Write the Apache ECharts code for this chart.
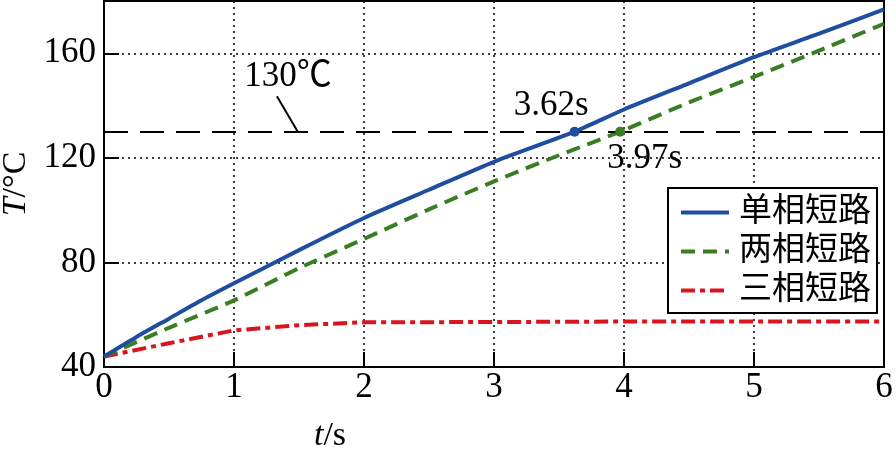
<!DOCTYPE html>
<html>
<head>
<meta charset="utf-8">
<script src="https://cdn.jsdelivr.net/npm/echarts@6/dist/echarts.min.js"></script>
<style>html,body{margin:0;padding:0;background:#fff}#c{width:896px;height:458px}</style>
</head>
<body>
<div id="c"></div>
<script>
// ---- data ----
const seriesNames = ['单相短路', '两相短路', '三相短路'];
const xTicks = [0, 1, 2, 3, 4, 5, 6];
const yTicks = [40, 80, 120, 160];
const singlePhase = [[0,44],[0.25,51.5],[0.5,58.5],[0.75,65.5],[1,72],[1.5,84.7],[2,97],[2.5,107.8],[3,118.5],[3.62,130],[4,138.5],[4.5,148.5],[5,158.5],[5.5,167.5],[6,176.8]];
const twoPhase = [[0,44],[0.5,55],[1,65.5],[1.5,77.8],[2,89],[2.5,100.3],[3,111],[3.5,121],[3.97,130],[4.5,141.2],[5,151],[5.5,161],[6,171.3]];
const threePhase = [[0,44],[0.5,49.1],[1,54],[1.5,56],[2,57.1],[3,57.2],[4,57.4],[5,57.4],[6,57.4]];
const threshold = 130;
const thresholdLabel = '130℃';
const thresholdLabelPos = [1.415, 150.9];
const leaderLine = [[1.33, 143.6], [1.495, 129.6]];
const crossSingle = [3.62, 130];
const crossTwo = [3.97, 130];
const crossSingleLabel = '3.62s';
const crossTwoLabel = '3.97s';
const crossSingleLabelPos = [3.44, 139.8];
const crossTwoLabelPos = [4.16, 119.6];

const serif = "'Liberation Serif','Noto Sans CJK SC'";
const chart = echarts.init(document.getElementById('c'));
const textBase = {fontFamily: serif, fontSize: 35, color: '#000'};

chart.setOption({
  animation: false,
  backgroundColor: '#fff',
  grid: {left: 104, right: 12, top: 1, bottom: 91, show: true, borderColor: '#000', borderWidth: 2,
    containLabel: false, outerBoundsMode: 'none'},
  legend: {
    data: seriesNames,
    orient: 'vertical',
    left: 668, top: 188,
    padding: [8, 6, 6, 11],
    itemGap: 6,
    itemWidth: 48, itemHeight: 20,
    backgroundColor: '#fff',
    borderColor: '#000', borderWidth: 2, borderRadius: 0,
    itemStyle: {opacity: 0},
    lineStyle: {width: 4},
    textStyle: {fontFamily: serif, fontSize: 33, color: '#000', padding: [0, 0, 0, 5]}
  },
  xAxis: {
    type: 'value', min: xTicks[0], max: xTicks[xTicks.length - 1], interval: 1,
    name: '{i|t}/s', nameLocation: 'middle', nameGap: 52,
    nameTextStyle: {fontFamily: serif, fontSize: 34, color: '#000', padding: [0, 328, 0, 0],
      rich: {i: {fontStyle: 'italic', fontFamily: serif, fontSize: 34, color: '#000'}}},
    axisLine: {lineStyle: {color: '#000', width: 2}},
    axisTick: {inside: true, length: 15, lineStyle: {color: '#000', width: 2}},
    axisLabel: Object.assign({margin: 3}, textBase),
    splitLine: {show: true, lineStyle: {color: '#000', width: 1.5, type: [2, 4]}}
  },
  yAxis: {
    type: 'value', min: yTicks[0], max: 180, interval: 40,
    name: '{i|T}/°C', nameLocation: 'middle', nameGap: 60,
    nameTextStyle: {fontFamily: serif, fontSize: 34, color: '#000',
      rich: {i: {fontStyle: 'italic', fontFamily: serif, fontSize: 34, color: '#000'}}},
    axisLine: {lineStyle: {color: '#000', width: 2}},
    axisTick: {inside: true, length: 15, lineStyle: {color: '#000', width: 2}},
    axisLabel: Object.assign({margin: 8, showMaxLabel: false}, textBase),
    splitLine: {show: true, lineStyle: {color: '#000', width: 1.5, type: [2, 4]}}
  },
  series: [
    {
      name: seriesNames[0], type: 'line', data: singlePhase, symbol: 'none', smooth: 0.2,
      lineStyle: {color: '#1f4e9e', width: 4}, itemStyle: {color: '#1f4e9e'}, z: 5,
      markLine: {
        silent: true, symbol: ['none', 'none'], animation: false,
        label: {show: false},
        data: [
          {yAxis: threshold, lineStyle: {color: '#000', width: 2, type: [24, 12]}},
          [{coord: leaderLine[0], lineStyle: {color: '#000', width: 2, type: 'solid'}}, {coord: leaderLine[1]}]
        ]
      },
      markPoint: {
        silent: true, animation: false,
        data: [
          {coord: crossSingle, symbol: 'circle', symbolSize: 10, itemStyle: {color: '#1f4e9e'}, label: {show: false}},
          {coord: crossSingleLabelPos, symbol: 'circle', symbolSize: 0,
            label: Object.assign({show: true, position: 'inside', formatter: crossSingleLabel}, textBase)},
          {coord: thresholdLabelPos, symbol: 'circle', symbolSize: 0,
            label: Object.assign({show: true, position: 'inside', formatter: thresholdLabel}, textBase)}
        ]
      }
    },
    {
      name: seriesNames[1], type: 'line', data: twoPhase, symbol: 'none', smooth: 0.2,
      lineStyle: {color: '#3b7d22', width: 4, type: [14, 8]}, itemStyle: {color: '#3b7d22'}, z: 4,
      markPoint: {
        silent: true, animation: false,
        data: [
          {coord: crossTwo, symbol: 'circle', symbolSize: 10, itemStyle: {color: '#3b7d22', opacity: 1}, label: {show: false}},
          {coord: crossTwoLabelPos, symbol: 'circle', symbolSize: 0,
            label: Object.assign({show: true, position: 'inside', formatter: crossTwoLabel}, textBase)}
        ]
      }
    },
    {
      name: seriesNames[2], type: 'line', data: threePhase, symbol: 'none', smooth: false,
      lineStyle: {color: '#d8141e', width: 4, type: [14, 5, 5, 5]}, itemStyle: {color: '#d8141e'}, z: 3
    }
  ]
});
</script>
</body>
</html>
